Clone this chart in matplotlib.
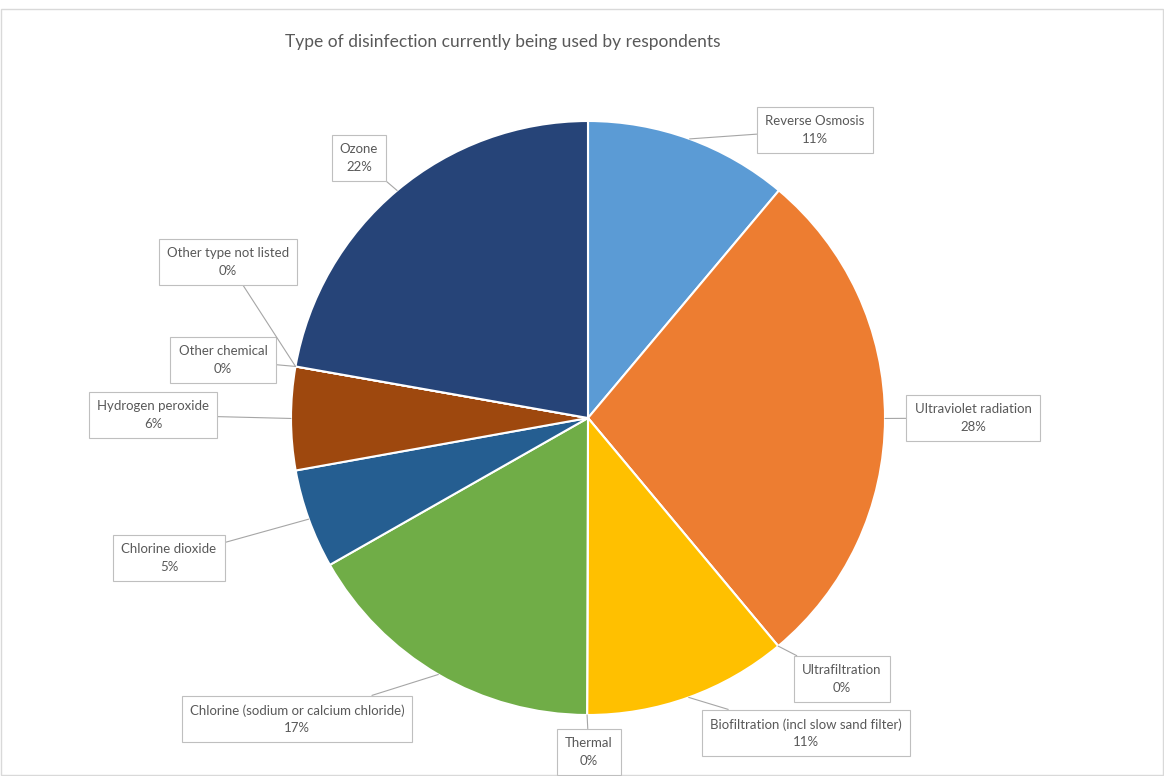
import matplotlib
matplotlib.use("Agg")
import matplotlib.pyplot as plt
import numpy as np

# ---- data ----
categories = [
    "Reverse Osmosis", "Ultraviolet radiation", "Ultrafiltration",
    "Biofiltration (incl slow sand filter)", "Thermal",
    "Chlorine (sodium or calcium chloride)", "Chlorine dioxide",
    "Hydrogen peroxide", "Other chemical", "Other type not listed", "Ozone",
]
values = [11.1, 27.8, 0.0, 11.1, 0.0, 16.7, 5.4, 5.6, 0.0, 0.0, 22.2]
title = "Type of disinfection currently being used by respondents"

# ---- styles / layout ----
colors = ["#5B9BD5", "#ED7D31", "#A5A5A5", "#FFC000", "#4472C4", "#70AD47",
          "#255E91", "#9E480E", "#636363", "#997300", "#264478"]
# label box centres in pixel coordinates (x from left, y from top)
label_pos = [(815, 130), (973, 418), (842, 679), (806, 733), (589, 752),
             (297, 719), (169, 558), (153, 415), (223, 360), (228, 262),
             (359, 158)]

W, H = 1164, 776
fig = plt.figure(figsize=(W / 100, H / 100), dpi=100)
ax = fig.add_axes([0, 0, 1, 1])
ax.set_xlim(0, W)
ax.set_ylim(0, H)
ax.set_aspect("equal")
ax.axis("off")

font = "Lato"
cx, cy, R = 588, H - 418, 297
wedges, _ = ax.pie(values, colors=colors, startangle=90, counterclock=False,
                   center=(cx, cy), radius=R, normalize=True,
                   wedgeprops=dict(edgecolor="white", linewidth=1.5))
ax.set_xlim(0, W)
ax.set_ylim(0, H)

total = sum(values)
for w, cat, v, (lx, ly) in zip(wedges, categories, values, label_pos):
    mid = np.deg2rad((w.theta1 + w.theta2) / 2)
    px, py = cx + R * np.cos(mid), cy + R * np.sin(mid)
    txt = f"{cat}\n{round(v / total * 100)}%"
    ax.annotate(txt, xy=(px, py), xytext=(lx, H - ly), ha="center", va="center",
                fontsize=9.5, color="#595959", family=font, linespacing=1.55,
                bbox=dict(boxstyle="square,pad=0.62", fc="white", ec="#BFBFBF", lw=0.8),
                arrowprops=dict(arrowstyle="-", color="#A6A6A6", lw=0.8,
                                shrinkA=0, shrinkB=0))

ax.text(503, H - 42, title, ha="center", va="center", fontsize=12.5,
        color="#595959", family=font)

# chart frame
ax.add_patch(plt.Rectangle((1, 1), W - 2, H - 10, fill=False, ec="#D9D9D9", lw=1))

fig.savefig("out.png", dpi=100)
